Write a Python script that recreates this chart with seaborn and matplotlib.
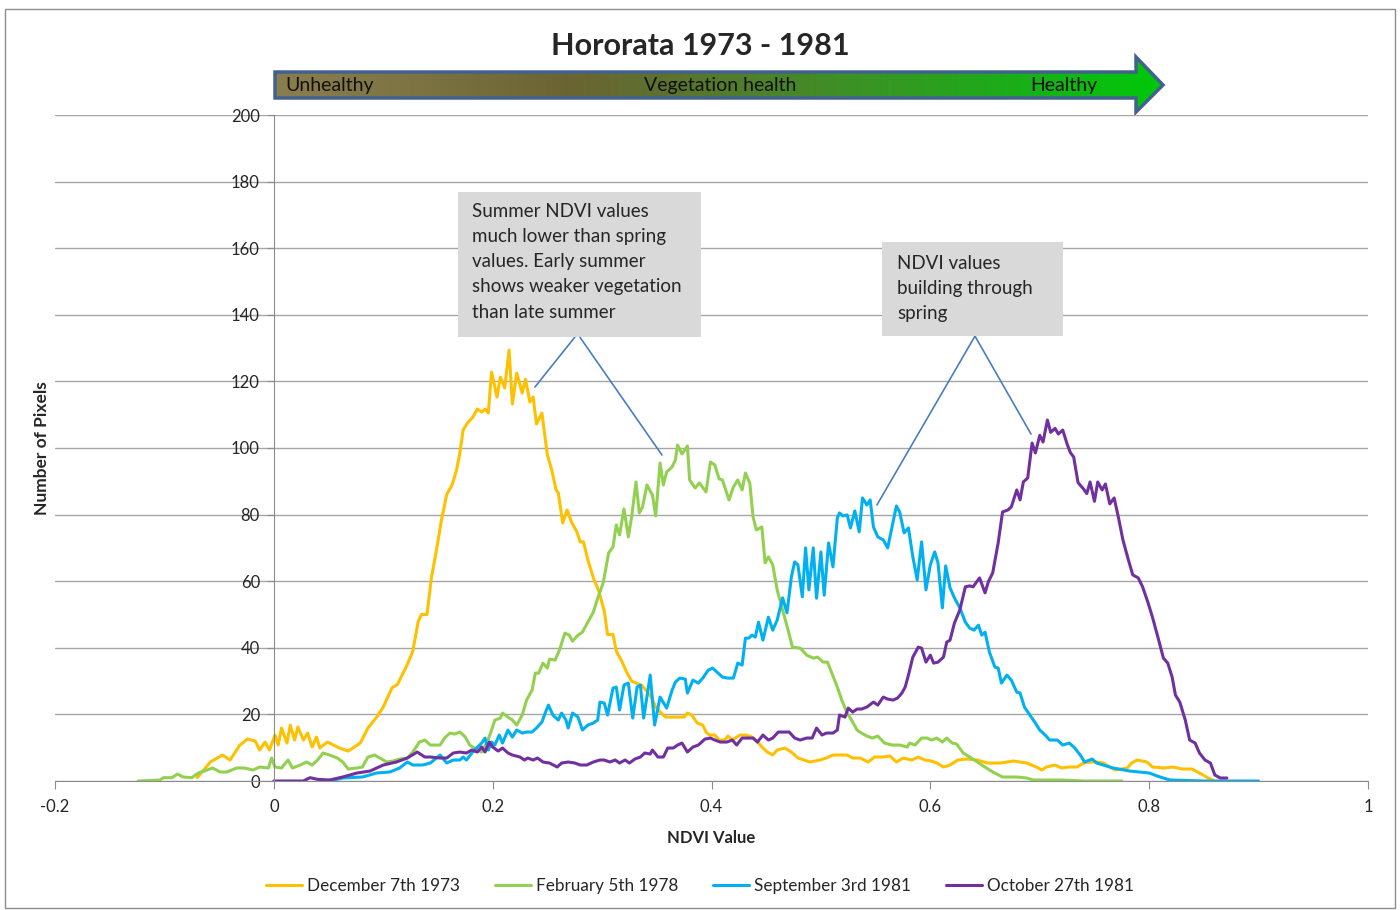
import numpy as np
import pandas as pd
import matplotlib
matplotlib.use("Agg")
import matplotlib.pyplot as plt
from matplotlib.colors import LinearSegmentedColormap
from matplotlib.patches import Polygon, Rectangle
import seaborn as sns

# NDVI histograms (x = NDVI value, y = number of pixels)
dec73_x = [-0.070, -0.058, -0.047, -0.040, -0.031, -0.024, -0.017, -0.013, -0.008, -0.004, 0.001, 0.004, 0.007,
           0.012, 0.015, 0.019, 0.022, 0.027, 0.031, 0.035, 0.039, 0.042, 0.049, 0.060, 0.068, 0.079, 0.086, 0.094,
           0.100, 0.108, 0.113, 0.122, 0.127, 0.132, 0.135, 0.140, 0.144, 0.149, 0.153, 0.158, 0.163, 0.167, 0.170,
           0.173, 0.177, 0.182, 0.186, 0.190, 0.193, 0.196, 0.199, 0.204, 0.207, 0.211, 0.215, 0.218, 0.222, 0.227,
           0.230, 0.234, 0.237, 0.240, 0.245, 0.250, 0.254, 0.258, 0.260, 0.264, 0.268, 0.272, 0.277, 0.280, 0.283,
           0.287, 0.292, 0.297, 0.302, 0.305, 0.310, 0.313, 0.318, 0.322, 0.327, 0.331, 0.336, 0.340, 0.345, 0.349,
           0.354, 0.358, 0.364, 0.370, 0.375, 0.378, 0.382, 0.387, 0.392, 0.395, 0.398, 0.403, 0.407, 0.412, 0.415,
           0.419, 0.426, 0.432, 0.437, 0.442, 0.447, 0.451, 0.456, 0.460, 0.467, 0.473, 0.479, 0.490, 0.499, 0.505,
           0.511, 0.524, 0.529, 0.536, 0.543, 0.549, 0.557, 0.563, 0.569, 0.575, 0.583, 0.589, 0.595, 0.601, 0.606,
           0.612, 0.618, 0.625, 0.633, 0.643, 0.652, 0.664, 0.676, 0.688, 0.697, 0.702, 0.706, 0.714, 0.720, 0.726,
           0.734, 0.740, 0.746, 0.752, 0.758, 0.764, 0.769, 0.780, 0.784, 0.789, 0.798, 0.803, 0.813, 0.822, 0.830,
           0.839, 0.846, 0.854, 0.858]
dec73_y = [1.0, 5.7, 7.8, 6.3, 10.8, 12.6, 12.0, 9.3, 11.7, 9.3, 13.8, 10.8, 15.9,
           11.4, 16.8, 12.3, 16.2, 12.3, 14.4, 10.2, 13.2, 9.9, 11.7, 9.9, 9.0, 11.4, 15.9, 19.2,
           22.2, 28.0, 29.0, 35.0, 39.0, 48.0, 50.0, 50.0, 61.0, 70.0, 78.0, 86.0, 89.0, 93.4, 98.5,
           105.4, 107.5, 109.3, 111.7, 110.8, 111.7, 110.5, 122.8, 115.3, 121.3, 118.0, 129.4, 113.2, 122.5, 116.5,
           120.7, 113.8, 115.3, 107.2, 110.5, 97.9, 93.4, 87.4, 86.5, 77.5, 81.4, 77.8, 74.8, 71.8, 71.8,
           66.4, 61.0, 57.0, 51.0, 44.0, 44.0, 39.0, 36.0, 33.0, 30.0, 29.4, 28.8, 27.3, 25.2, 22.2,
           20.4, 19.2, 19.2, 19.2, 19.2, 20.4, 19.8, 17.4, 16.8, 14.7, 13.8, 13.8, 12.3, 12.3, 13.5,
           12.3, 13.8, 13.8, 13.2, 11.7, 9.9, 8.7, 7.8, 9.3, 9.9, 8.7, 6.9, 5.7, 6.3, 6.9,
           7.8, 7.8, 6.9, 6.9, 5.7, 7.2, 7.2, 7.5, 5.7, 6.9, 6.3, 7.2, 6.3, 6.0, 5.4,
           4.2, 4.8, 6.3, 6.6, 6.3, 5.4, 5.4, 6.0, 5.4, 4.2, 3.3, 4.2, 4.8, 3.9, 4.2,
           4.2, 5.4, 5.7, 5.7, 5.4, 4.2, 3.3, 3.9, 5.4, 6.3, 5.7, 4.2, 3.9, 4.2, 3.6,
           3.6, 2.4, 0.9, 0.3]

feb78_x = [-0.124, -0.104, -0.101, -0.093, -0.088, -0.083, -0.075, -0.069, -0.061, -0.056, -0.049, -0.043, -0.034,
           -0.027, -0.019, -0.013, -0.005, -0.002, 0.001, 0.007, 0.013, 0.017, 0.024, 0.030, 0.035, 0.040, 0.045,
           0.051, 0.058, 0.063, 0.068, 0.076, 0.081, 0.086, 0.092, 0.097, 0.103, 0.109, 0.115, 0.122, 0.127, 0.133,
           0.138, 0.143, 0.152, 0.156, 0.161, 0.165, 0.170, 0.175, 0.179, 0.186, 0.190, 0.195, 0.199, 0.202, 0.207,
           0.209, 0.214, 0.218, 0.222, 0.227, 0.231, 0.236, 0.239, 0.242, 0.246, 0.250, 0.252, 0.257, 0.261, 0.266,
           0.270, 0.273, 0.278, 0.282, 0.287, 0.292, 0.296, 0.301, 0.306, 0.310, 0.313, 0.316, 0.320, 0.324, 0.327,
           0.331, 0.334, 0.337, 0.341, 0.346, 0.349, 0.353, 0.356, 0.359, 0.364, 0.367, 0.369, 0.373, 0.378, 0.380,
           0.385, 0.389, 0.395, 0.399, 0.403, 0.407, 0.410, 0.416, 0.420, 0.424, 0.428, 0.431, 0.435, 0.438, 0.441,
           0.446, 0.449, 0.452, 0.456, 0.460, 0.465, 0.470, 0.474, 0.481, 0.487, 0.493, 0.497, 0.502, 0.506, 0.510,
           0.515, 0.519, 0.524, 0.528, 0.533, 0.537, 0.542, 0.547, 0.552, 0.558, 0.565, 0.572, 0.579, 0.581, 0.586,
           0.592, 0.597, 0.601, 0.606, 0.611, 0.615, 0.620, 0.624, 0.630, 0.636, 0.643, 0.647, 0.657, 0.666, 0.679,
           0.688, 0.694, 0.720, 0.740, 0.775]
feb78_y = [0.0, 0.3, 1.0, 1.0, 2.1, 1.2, 1.0, 2.4, 3.3, 3.9, 2.7, 2.7, 3.9,
           3.9, 3.3, 4.2, 3.9, 6.9, 4.2, 3.9, 6.3, 3.9, 4.8, 5.7, 4.8, 6.3, 8.4,
           7.8, 6.9, 5.7, 3.6, 3.9, 4.2, 7.2, 7.8, 6.9, 5.7, 6.0, 6.6, 6.9, 8.7, 11.7,
           12.3, 10.8, 10.8, 12.9, 14.4, 14.1, 14.7, 13.2, 10.8, 9.3, 8.7, 11.7, 15.3, 18.3, 18.9,
           20.4, 19.2, 18.3, 16.8, 19.8, 24.3, 27.3, 32.4, 32.4, 35.4, 33.9, 36.6, 36.3, 39.3, 44.4,
           43.8, 42.0, 43.8, 44.7, 47.7, 50.7, 54.9, 59.5, 68.5, 70.3, 76.9, 73.9, 81.7, 73.3, 79.3,
           89.8, 80.5, 82.3, 88.9, 85.9, 79.6, 95.5, 88.9, 92.8, 94.3, 96.4, 100.9, 98.2, 100.6, 90.4,
           88.0, 89.5, 86.8, 95.8, 94.9, 90.7, 90.4, 84.4, 88.3, 90.4, 87.4, 92.5, 89.5, 79.3, 75.4,
           76.3, 65.5, 67.3, 64.9, 57.4, 51.4, 45.3, 40.2, 39.9, 37.8, 36.9, 37.2, 35.7, 35.7, 32.4,
           28.2, 24.3, 20.4, 18.3, 15.3, 14.4, 13.5, 12.9, 13.5, 11.4, 10.8, 10.8, 10.2, 11.4, 10.8,
           12.9, 12.9, 12.3, 12.9, 11.7, 12.9, 11.4, 11.1, 8.4, 7.2, 5.7, 4.8, 2.7, 1.2, 1.2,
           0.9, 0.3, 0.3, 0.0, 0.0]

sep81_x = [0.051, 0.063, 0.081, 0.094, 0.106, 0.115, 0.122, 0.127, 0.136, 0.143, 0.152, 0.158, 0.164, 0.170, 0.173,
           0.176, 0.181, 0.186, 0.190, 0.193, 0.196, 0.199, 0.202, 0.206, 0.209, 0.214, 0.218, 0.222, 0.227, 0.231,
           0.236, 0.240, 0.245, 0.248, 0.251, 0.255, 0.260, 0.263, 0.267, 0.269, 0.273, 0.278, 0.282, 0.287, 0.292,
           0.296, 0.298, 0.302, 0.305, 0.310, 0.313, 0.316, 0.320, 0.324, 0.328, 0.332, 0.335, 0.338, 0.344, 0.348,
           0.353, 0.359, 0.364, 0.367, 0.371, 0.376, 0.378, 0.383, 0.388, 0.392, 0.397, 0.401, 0.406, 0.410, 0.415,
           0.420, 0.424, 0.428, 0.431, 0.434, 0.437, 0.440, 0.443, 0.447, 0.452, 0.456, 0.460, 0.465, 0.469, 0.473,
           0.476, 0.479, 0.483, 0.486, 0.489, 0.493, 0.496, 0.500, 0.503, 0.507, 0.511, 0.515, 0.517, 0.520, 0.524,
           0.527, 0.531, 0.535, 0.538, 0.542, 0.545, 0.548, 0.552, 0.557, 0.561, 0.565, 0.569, 0.572, 0.576, 0.580,
           0.584, 0.588, 0.592, 0.596, 0.600, 0.604, 0.607, 0.611, 0.614, 0.618, 0.622, 0.627, 0.632, 0.636, 0.640,
           0.644, 0.647, 0.650, 0.654, 0.659, 0.662, 0.665, 0.670, 0.674, 0.679, 0.682, 0.686, 0.691, 0.696, 0.700,
           0.705, 0.709, 0.716, 0.721, 0.727, 0.732, 0.737, 0.741, 0.748, 0.752, 0.767, 0.782, 0.800, 0.810, 0.819,
           0.850, 0.900]
sep81_y = [0.0, 0.9, 1.2, 2.4, 2.7, 3.9, 5.7, 4.8, 4.8, 5.4, 7.8, 5.4, 6.3, 6.3, 7.2,
           6.3, 8.4, 10.2, 11.4, 12.9, 9.3, 11.7, 10.8, 13.8, 11.4, 15.3, 13.2, 15.3, 14.4, 14.7,
           14.7, 15.9, 17.7, 20.4, 22.8, 19.8, 18.3, 20.4, 18.3, 15.9, 20.4, 19.2, 15.3, 16.8, 17.4,
           18.3, 23.7, 23.4, 19.8, 27.9, 28.2, 21.3, 28.8, 29.4, 18.9, 28.2, 28.8, 18.9, 31.8, 16.8,
           25.2, 21.9, 27.3, 29.7, 30.9, 30.6, 26.4, 30.3, 29.4, 30.9, 33.3, 33.9, 32.4, 31.2, 30.9,
           30.9, 35.4, 34.8, 42.9, 42.9, 43.8, 43.2, 47.7, 42.3, 49.2, 45.3, 48.3, 55.0, 50.5, 61.3,
           65.8, 64.9, 55.3, 70.0, 57.4, 70.0, 54.9, 68.8, 55.8, 71.5, 64.3, 79.0, 80.5, 79.6, 79.9,
           76.0, 81.1, 74.8, 85.0, 82.9, 84.4, 76.3, 73.3, 72.4, 70.0, 76.3, 82.6, 80.8, 74.5, 76.0,
           67.3, 60.4, 71.8, 57.4, 64.9, 68.8, 65.5, 52.0, 64.6, 58.0, 55.0, 52.0, 47.7, 45.9, 45.3,
           46.8, 43.8, 44.7, 38.7, 34.2, 33.9, 29.4, 31.8, 30.3, 26.7, 26.4, 22.2, 19.8, 17.4, 15.3,
           13.8, 12.3, 12.3, 10.8, 11.4, 9.9, 7.8, 5.7, 6.6, 5.4, 3.9, 3.0, 2.4, 1.2, 0.3,
           0.0, 0.0]

oct81_x = [0.000, 0.027, 0.033, 0.040, 0.051, 0.063, 0.076, 0.088, 0.100, 0.112, 0.122, 0.131, 0.138, 0.143, 0.152,
           0.158, 0.164, 0.170, 0.176, 0.181, 0.186, 0.190, 0.193, 0.197, 0.200, 0.205, 0.209, 0.214, 0.218, 0.225,
           0.229, 0.232, 0.237, 0.241, 0.246, 0.252, 0.259, 0.263, 0.269, 0.275, 0.280, 0.286, 0.292, 0.298, 0.302,
           0.307, 0.312, 0.316, 0.321, 0.325, 0.330, 0.335, 0.339, 0.344, 0.346, 0.351, 0.356, 0.360, 0.365, 0.369,
           0.373, 0.378, 0.383, 0.388, 0.394, 0.399, 0.403, 0.408, 0.414, 0.419, 0.423, 0.428, 0.432, 0.438, 0.442,
           0.447, 0.452, 0.456, 0.461, 0.465, 0.471, 0.476, 0.481, 0.487, 0.492, 0.496, 0.501, 0.505, 0.511, 0.515,
           0.517, 0.522, 0.525, 0.529, 0.533, 0.537, 0.542, 0.548, 0.552, 0.557, 0.561, 0.566, 0.570, 0.574, 0.577,
           0.580, 0.584, 0.589, 0.592, 0.596, 0.600, 0.603, 0.607, 0.612, 0.615, 0.618, 0.622, 0.627, 0.632, 0.636,
           0.639, 0.645, 0.650, 0.653, 0.657, 0.662, 0.666, 0.671, 0.674, 0.679, 0.682, 0.685, 0.689, 0.693, 0.696,
           0.700, 0.703, 0.707, 0.710, 0.714, 0.717, 0.721, 0.725, 0.728, 0.731, 0.735, 0.740, 0.743, 0.746, 0.750,
           0.753, 0.757, 0.760, 0.764, 0.768, 0.772, 0.776, 0.781, 0.785, 0.790, 0.794, 0.799, 0.803, 0.808, 0.813,
           0.817, 0.821, 0.824, 0.828, 0.833, 0.837, 0.842, 0.846, 0.851, 0.856, 0.860, 0.865, 0.871]
oct81_y = [0.0, 0.0, 1.0, 0.5, 0.3, 1.2, 2.4, 3.0, 4.8, 5.7, 6.9, 8.7, 7.2, 7.2, 6.9,
           6.9, 8.4, 8.7, 8.4, 9.3, 8.7, 10.2, 8.7, 11.7, 10.2, 9.0, 9.9, 8.4, 7.8, 7.2,
           6.3, 6.9, 6.3, 6.9, 5.7, 5.4, 4.2, 5.4, 5.7, 5.4, 4.8, 4.8, 5.7, 6.3, 6.3,
           5.7, 6.3, 5.4, 6.3, 5.4, 6.6, 7.2, 8.4, 8.1, 9.3, 7.2, 7.2, 9.9, 9.9, 10.8,
           11.4, 8.7, 10.2, 10.8, 12.6, 12.9, 12.3, 11.7, 11.7, 12.3, 10.8, 12.9, 12.9, 12.9, 11.7,
           13.8, 12.3, 12.9, 14.7, 14.7, 14.7, 12.9, 12.3, 12.9, 12.9, 15.9, 13.8, 14.4, 14.4, 15.3,
           19.8, 19.2, 21.9, 20.7, 21.6, 21.6, 22.2, 23.7, 22.8, 25.2, 24.6, 24.3, 24.9, 26.4, 28.2,
           31.8, 37.2, 40.2, 39.9, 35.7, 37.8, 35.4, 35.7, 37.2, 41.7, 42.3, 47.4, 51.4, 58.3, 58.6,
           58.3, 61.0, 56.5, 59.8, 62.5, 71.5, 80.8, 81.4, 82.3, 87.4, 84.4, 89.8, 91.0, 101.5, 98.5,
           103.8, 101.8, 108.4, 104.7, 105.9, 104.2, 105.4, 101.2, 98.6, 97.3, 89.6, 87.7, 86.3, 89.8, 84.0,
           89.8, 87.4, 89.2, 83.2, 85.0, 79.0, 72.4, 66.4, 61.9, 61.0, 58.3, 53.5, 49.2, 43.2, 36.9,
           35.4, 31.2, 25.8, 23.7, 18.3, 12.3, 11.4, 8.4, 6.3, 5.4, 1.8, 0.9, 0.9]

series_names = ["December 7th 1973", "February 5th 1978", "September 3rd 1981", "October 27th 1981"]
series_colors = ["#FFC000", "#92D050", "#00B0F0", "#7030A0"]

x_ticks = [-0.2, 0, 0.2, 0.4, 0.6, 0.8, 1]
x_tick_labels = ["-0.2", "0", "0.2", "0.4", "0.6", "0.8", "1"]
y_ticks = [0, 20, 40, 60, 80, 100, 120, 140, 160, 180, 200]

note_summer = "Summer NDVI values\nmuch lower than spring\nvalues. Early summer\nshows weaker vegetation\nthan late summer"
note_spring = "NDVI values\nbuilding through\nspring"

# long table for seaborn
frames = []
for name, xs, ys in zip(series_names,
                        [dec73_x, feb78_x, sep81_x, oct81_x],
                        [dec73_y, feb78_y, sep81_y, oct81_y]):
    frames.append(pd.DataFrame({"ndvi": xs, "pixels": ys, "date": name}))
data = pd.concat(frames, ignore_index=True)

sns.set_style("white")
plt.rcParams["font.family"] = ["Lato", "DejaVu Sans"]

fig = plt.figure(figsize=(14, 9.1), dpi=100)

# overlay in pixel coordinates for the outer frame and the gradient arrow
over = fig.add_axes([0, 0, 1, 1], zorder=0)
over.set_xlim(0, 1400)
over.set_ylim(910, 0)
over.axis("off")
over.add_patch(Rectangle((5, 9), 1390, 899, fill=False, edgecolor="#8c8c8c", lw=1))

arrow_pts = [(275, 72), (1136, 72), (1136, 57), (1163, 85), (1136, 112), (1136, 98), (275, 98)]
cmap = LinearSegmentedColormap.from_list(
    "veg", ["#8b7e4e", "#7c7242", "#6a6432", "#557a2d", "#3a9424", "#1aae18", "#00c80a"])
grad = np.linspace(0, 1, 256).reshape(1, -1)
img = over.imshow(grad, cmap=cmap, extent=[275, 1163, 112, 57], aspect="auto", zorder=1)
arrow = Polygon(arrow_pts, closed=True, facecolor="none", edgecolor="#41618f", lw=2.5, zorder=2)
over.add_patch(arrow)
img.set_clip_path(arrow)
over.text(285, 86, "Unhealthy", fontsize=14, va="center", ha="left", color="#111111")
over.text(720, 85, "Vegetation health", fontsize=14, va="center", ha="center", color="#111111")
over.text(1097, 86, "Healthy", fontsize=14, va="center", ha="right", color="#111111")
over.text(700, 46, "Hororata 1973 - 1981", fontsize=22, fontweight="bold", ha="center", va="center")

# main chart
ax = fig.add_axes([55 / 1400, 1 - 781 / 910, 1313 / 1400, 666 / 910], zorder=1)
ax.set_facecolor("none")
sns.lineplot(data=data, x="ndvi", y="pixels", hue="date", hue_order=series_names,
             palette=series_colors, estimator=None, sort=False, lw=2.2, ax=ax)

ax.set_xlim(-0.2, 1)
ax.set_ylim(0, 200)
ax.set_xticks(x_ticks)
ax.set_xticklabels(x_tick_labels)
ax.set_yticks(y_ticks)
ax.yaxis.grid(True, color="#a6a6a6", lw=1)
ax.xaxis.grid(False)
for side in ["top", "right"]:
    ax.spines[side].set_visible(False)
ax.spines["left"].set_position(("data", 0))
ax.spines["left"].set_color("#8c8c8c")
ax.spines["bottom"].set_color("#8c8c8c")
ax.tick_params(axis="x", direction="out", length=6, color="#8c8c8c", labelsize=12, pad=7, bottom=True)
ax.tick_params(axis="y", direction="out", length=5, color="#8c8c8c", labelsize=12, pad=5, left=True)

ax.set_xlabel("NDVI Value", fontsize=12, fontweight="bold")
ax.set_ylabel("Number of Pixels", fontsize=12.5, fontweight="bold")
ax.xaxis.set_label_coords(0.5, -0.073)
ax.yaxis.set_label_coords(-0.004, 0.5)

# callout boxes
line_kw = dict(color="#4a7ebb", lw=1.2, zorder=4)
ax.plot([0.2751, 0.2386], [133.3, 118.3], **line_kw)
ax.plot([0.2797, 0.3547], [133.3, 97.9], **line_kw)
ax.plot([0.6408, 0.5512], [133.6, 82.9], **line_kw)
ax.plot([0.6408, 0.6920], [133.6, 104.2], **line_kw)
ax.add_patch(Rectangle((0.168, 133.3), 0.222, 43.6, facecolor="#d9d9d9", edgecolor="none", zorder=5))
ax.add_patch(Rectangle((0.556, 133.6), 0.165, 28.3, facecolor="#d9d9d9", edgecolor="none", zorder=5))
ax.text(0.181, 155.9, note_summer, fontsize=13.5, ha="left", va="center", linespacing=1.58, zorder=6)
ax.text(0.5695, 148.0, note_spring, fontsize=13.5, ha="left", va="center", linespacing=1.58, zorder=6)

# legend at the bottom
handles, labels = ax.get_legend_handles_labels()
ax.get_legend().remove()
fig.legend(handles, labels, loc="center", bbox_to_anchor=(0.5, 1 - 886 / 910), ncol=4, frameon=False,
           fontsize=12.3, handlelength=2.1, handletextpad=0.3, columnspacing=2.05)

fig.savefig("out.png", dpi=100)
